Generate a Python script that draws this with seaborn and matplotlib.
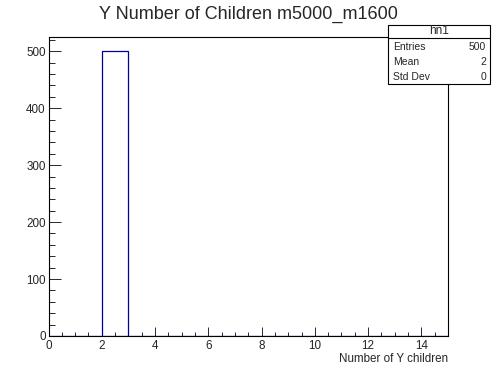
import numpy as np
import matplotlib
matplotlib.use('Agg')
import matplotlib.pyplot as plt
import seaborn as sns
from matplotlib.patches import Rectangle
from matplotlib.lines import Line2D
from matplotlib.ticker import MultipleLocator

# Histogram contents (15 bins of width 1 from 0 to 15)
bin_edges = list(range(0, 16))
bin_counts = [0, 0, 500, 0, 0, 0, 0, 0, 0, 0, 0, 0, 0, 0, 0]

title = 'Y Number of Children m5000_m1600'
x_label = 'Number of Y children'
stats_name = 'hn1'
stats_labels = ['Entries', 'Mean', 'Std Dev']
stats_values = ['500', '2', '0']

sns.set_style('ticks')
plt.rcParams['font.family'] = ['Liberation Sans', 'DejaVu Sans']

centers = [(a + b) / 2 for a, b in zip(bin_edges[:-1], bin_edges[1:])]

fig = plt.figure(figsize=(4.98, 3.74), dpi=100)
ax = fig.add_axes([48.5 / 498, 38 / 374, 399.5 / 498, 299 / 374])

sns.histplot(x=centers, weights=bin_counts, bins=bin_edges, fill=False,
             element='bars', color='#000099', linewidth=0.9, ax=ax)

ax.set_xlim(0, 15)
ax.set_ylim(0, 525)
ax.set_ylabel('')
ax.set_xlabel(x_label, fontsize=8.4, loc='right', labelpad=0.5)

ax.xaxis.set_major_locator(MultipleLocator(2))
ax.xaxis.set_minor_locator(MultipleLocator(0.5))
ax.yaxis.set_major_locator(MultipleLocator(100))
ax.yaxis.set_minor_locator(MultipleLocator(20))

ax.tick_params(axis='x', which='major', direction='in', length=6.5, width=0.7,
               labelsize=8.4, pad=3)
ax.tick_params(axis='x', which='minor', direction='in', length=3.2, width=0.7)
ax.tick_params(axis='y', which='major', direction='in', length=8.6, width=0.7,
               labelsize=8.4, pad=2)
ax.tick_params(axis='y', which='minor', direction='in', length=4.3, width=0.7)

for sp in ax.spines.values():
    sp.set_visible(True)
    sp.set_linewidth(0.8)
    sp.set_color('black')

fig.text(248 / 498, 1 - 14 / 374, title, ha='center', va='center', fontsize=13)

# Stats box
bx0, bx1 = 388 / 498, 490 / 498
by_top, by_bot = 1 - 25 / 374, 1 - 84 / 374
fig.patches.append(Rectangle((bx0, by_bot), bx1 - bx0, by_top - by_bot,
                             transform=fig.transFigure, facecolor='white',
                             edgecolor='black', linewidth=0.8, zorder=5))
div_y = 1 - 38 / 374
fig.lines.append(Line2D([bx0, bx1], [div_y, div_y], transform=fig.transFigure,
                        color='black', linewidth=0.8, zorder=6))
fig.text((bx0 + bx1) / 2, 1 - 31 / 374, stats_name, ha='center', va='center',
         fontsize=8.5, zorder=7)
row_y = [47, 62, 77]
for lab, val, yy in zip(stats_labels, stats_values, row_y):
    fig.text(bx0 + 5 / 498, 1 - yy / 374, lab, ha='left', va='center',
             fontsize=7.5, zorder=7)
    fig.text(bx1 - 4 / 498, 1 - yy / 374, val, ha='right', va='center',
             fontsize=7.5, zorder=7)

fig.savefig('out.png', dpi=100, facecolor='white')
